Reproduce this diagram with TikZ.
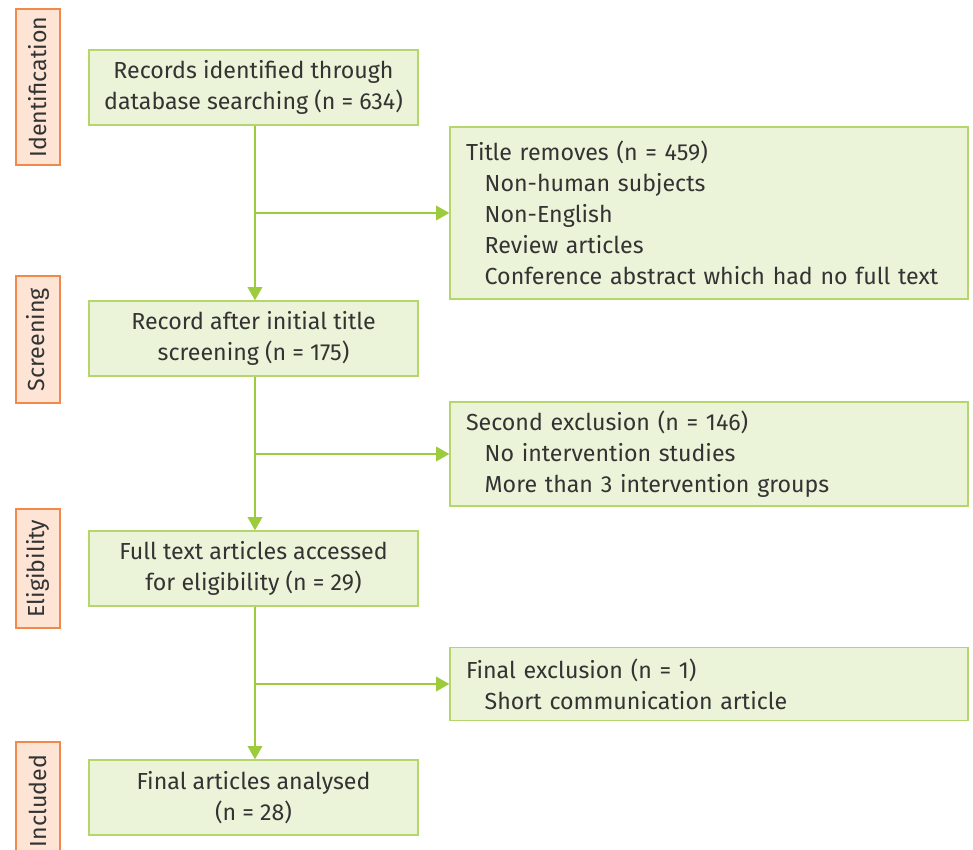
\documentclass[tikz,border=0pt]{standalone}
\usepackage{fontspec}
\setmainfont{Fira Sans}
\usetikzlibrary{arrows.meta,calc,positioning}
\definecolor{FlowLine}{HTML}{9CCB3B}
\definecolor{FlowFill}{HTML}{EBF3D8}
\definecolor{FlowEdge}{HTML}{B5D66A}
\definecolor{StageEdge}{HTML}{F0894A}
\definecolor{StageFill}{HTML}{FDE4D5}
\definecolor{FlowInk}{HTML}{333333}

\begin{document}
\begin{tikzpicture}[
      x=0.75pt,y=-0.75pt,
      font=\fontsize{17.4}{23.25}\selectfont,
      stage/.style={draw=StageEdge,fill=StageFill,line width=1pt,rotate=90,minimum height=33pt,inner sep=0pt,text=FlowInk},
      flow/.style={draw=FlowEdge,fill=FlowFill,line width=1pt,minimum width=246.75pt,minimum height=56.25pt,align=center,inner sep=0pt,text=FlowInk},
      excl/.style={draw=FlowEdge,fill=FlowFill,line width=1pt,minimum width=388.5pt,align=left,text width=364.5pt,inner xsep=12pt,inner ysep=0pt,text=FlowInk},
      link/.style={draw=FlowLine,line width=1.3pt,-{Triangle[width=11pt,length=10pt]}}
    ]
      \useasboundingbox (0,0) rectangle (973,849);
      \newcommand{\sub}{\hspace*{14pt}}

      % stage labels
      \node[stage,minimum width=117pt] (ident) at (38,87) {Identification};
      \node[stage,minimum width=95.25pt] (scrn) at (38,339.5) {Screening};
      \node[stage,minimum width=89.25pt] (elig) at (38,568.5) {Eligibility};
      \node[stage,minimum width=88.5pt] (incl) at (38,801) {Included};

      % main flow
      \node[flow] (records) at (253.5,87.5) {Records identified through\\database searching (n = 634)};
      \node[flow] (screened) at (253.5,338.5) {Record after initial title\\screening (n = 175)};
      \node[flow] (fulltext) at (253.5,568.5) {Full text articles accessed\\for eligibility (n = 29)};
      \node[flow] (final) at (253.5,797.5) {Final articles analysed\\(n = 28)};

      % exclusions
      \node[excl,minimum height=129pt] (titlerm) at (709,213)
        {Title removes (n = 459)\\\sub Non-human subjects\\\sub Non-English\\\sub Review articles\\\sub Conference abstract which had no full text};
      \node[excl,minimum height=78pt] (second) at (709,454)
        {Second exclusion (n = 146)\\\sub No intervention studies\\\sub More than 3 intervention groups};
      \node[excl,minimum height=54.75pt] (finalex) at (709,684)
        {Final exclusion (n = 1)\\\sub Short communication article};

      \draw[link] ([xshift=1.1pt]records.south) -- ([xshift=1.1pt]screened.north);
      \draw[link] ([xshift=1.1pt]screened.south) -- ([xshift=1.1pt]fulltext.north);
      \draw[link] ([xshift=1.1pt]fulltext.south) -- ([xshift=1.1pt]final.north);
      \draw[link] (records.south -| 255,0) |- (titlerm.west);
      \draw[link] (screened.south -| 255,0) |- (second.west);
      \draw[link] (fulltext.south -| 255,0) |- (finalex.west);
    \end{tikzpicture}
\end{document}
